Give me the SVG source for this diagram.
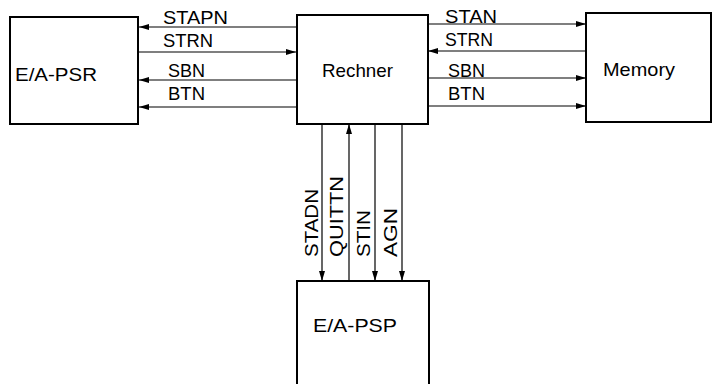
<svg xmlns="http://www.w3.org/2000/svg" width="713" height="384" viewBox="0 0 713 384">
<style>
.box{fill:#fff;stroke:#000;stroke-width:2}
.ln{stroke:#000;stroke-width:1.2;fill:none}
.t{font-family:"Liberation Sans","DejaVu Sans",sans-serif;font-size:19px;fill:#000}
.n{font-family:"Liberation Sans","DejaVu Sans",sans-serif;font-size:19px;fill:#000}
</style>
<defs>
<marker id="ah" viewBox="0 0 10 6" refX="10" refY="3" markerWidth="10" markerHeight="6" markerUnits="userSpaceOnUse" orient="auto">
<path d="M0,0 L10,3 L0,6 Z" fill="#000"/>
</marker>
</defs>
<rect width="713" height="384" fill="#fff"/>
<g id="connectors">
<line class="ln" x1="296" y1="27" x2="139" y2="27" marker-end="url(#ah)"/>
<line class="ln" x1="139" y1="52" x2="296" y2="52" marker-end="url(#ah)"/>
<line class="ln" x1="296" y1="80" x2="139" y2="80" marker-end="url(#ah)"/>
<line class="ln" x1="296" y1="107" x2="139" y2="107" marker-end="url(#ah)"/>
<line class="ln" x1="428" y1="24" x2="586" y2="24" marker-end="url(#ah)"/>
<line class="ln" x1="586" y1="51" x2="428" y2="51" marker-end="url(#ah)"/>
<line class="ln" x1="428" y1="78" x2="586" y2="78" marker-end="url(#ah)"/>
<line class="ln" x1="428" y1="106" x2="586" y2="106" marker-end="url(#ah)"/>
<line class="ln" x1="322" y1="124" x2="322" y2="281" marker-end="url(#ah)"/>
<line class="ln" x1="349" y1="281" x2="349" y2="124" marker-end="url(#ah)"/>
<line class="ln" x1="375" y1="124" x2="375" y2="281" marker-end="url(#ah)"/>
<line class="ln" x1="402" y1="124" x2="402" y2="281" marker-end="url(#ah)"/>
<text class="t" x="163" y="24" textLength="65" lengthAdjust="spacingAndGlyphs">STAPN</text>
<text class="t" x="163" y="47" textLength="50" lengthAdjust="spacingAndGlyphs">STRN</text>
<text class="t" x="168" y="77" textLength="37" lengthAdjust="spacingAndGlyphs">SBN</text>
<text class="t" x="168" y="100" textLength="37" lengthAdjust="spacingAndGlyphs">BTN</text>
<text class="t" x="445" y="23" textLength="52" lengthAdjust="spacingAndGlyphs">STAN</text>
<text class="t" x="445" y="46" textLength="48" lengthAdjust="spacingAndGlyphs">STRN</text>
<text class="t" x="448" y="77" textLength="37" lengthAdjust="spacingAndGlyphs">SBN</text>
<text class="t" x="448" y="100" textLength="37" lengthAdjust="spacingAndGlyphs">BTN</text>
<text class="t" transform="translate(318,257) rotate(-90)" textLength="68" lengthAdjust="spacingAndGlyphs">STADN</text>
<text class="t" transform="translate(343,257) rotate(-90)" textLength="81" lengthAdjust="spacingAndGlyphs">QUITTN</text>
<text class="t" transform="translate(370,257) rotate(-90)" textLength="47" lengthAdjust="spacingAndGlyphs">STIN</text>
<text class="t" transform="translate(397,257) rotate(-90)" textLength="49" lengthAdjust="spacingAndGlyphs">AGN</text>
</g>
<g id="psr">
<rect class="box" x="10" y="17" width="128" height="107"/>
<text class="n" x="15" y="81" textLength="82" lengthAdjust="spacingAndGlyphs">E/A-PSR</text>
</g>
<g id="rechner">
<rect class="box" x="297" y="15" width="131" height="109"/>
<text class="n" x="322" y="77" textLength="71" lengthAdjust="spacingAndGlyphs">Rechner</text>
</g>
<g id="memory">
<rect class="box" x="586" y="13" width="125" height="109"/>
<text class="n" x="603" y="76" textLength="72" lengthAdjust="spacingAndGlyphs">Memory</text>
</g>
<g id="psp">
<rect class="box" x="297" y="281" width="132" height="120"/>
<text class="n" x="313" y="332" textLength="84" lengthAdjust="spacingAndGlyphs">E/A-PSP</text>
</g>
</svg>
